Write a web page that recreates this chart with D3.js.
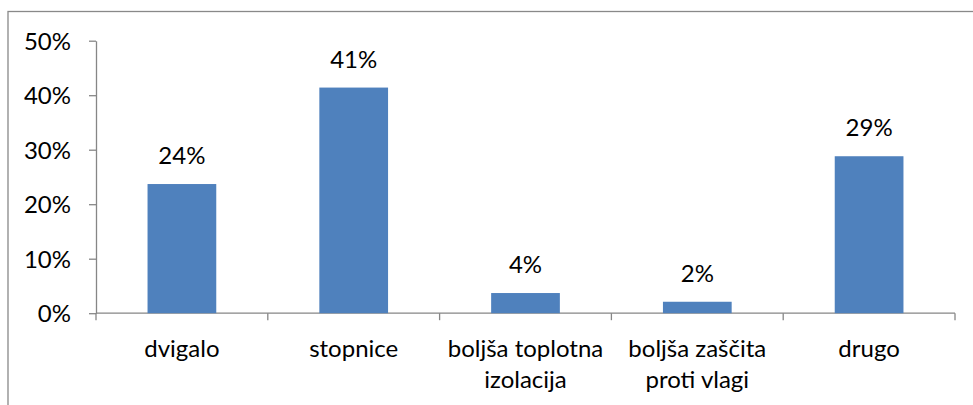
<!DOCTYPE html>
<html>
<head>
<meta charset="utf-8">
<script src="https://cdn.jsdelivr.net/npm/d3@7"></script>
<style>
  body { margin: 0; background: #fff; }
  text { font-family: Lato, "Open Sans", sans-serif; fill: #000; }
</style>
</head>
<body>
<div id="chart"></div>
<script>
const categories = [["dvigalo"], ["stopnice"], ["boljša toplotna", "izolacija"], ["boljša zaščita", "proti vlagi"], ["drugo"]];
const values = [23.7, 41.4, 3.7, 2.1, 28.8];
const valueLabels = ["24%", "41%", "4%", "2%", "29%"];
const yTicks = [0, 10, 20, 30, 40, 50];

const W = 973, H = 405;
const margin = { left: 96, right: 18, top: 40.7, bottom: 91.8 };
const fontSize = "24px";

const svg = d3.select("#chart").append("svg")
  .attr("width", W).attr("height", H);

// outer frame (only top and left edges fall inside the picture)
svg.append("rect")
  .attr("x", 8).attr("y", 11.5)
  .attr("width", W).attr("height", H)
  .attr("fill", "none").attr("stroke", "#898989").attr("stroke-width", 1.3);

const x = d3.scaleBand()
  .domain(d3.range(categories.length))
  .range([margin.left, W - margin.right])
  .paddingInner(0.6).paddingOuter(0.3);
const y = d3.scaleLinear().domain([0, 50]).range([H - margin.bottom, margin.top]);

const bandStep = x.step();

// y axis
const yAxis = svg.append("g")
  .attr("transform", `translate(${margin.left},0)`)
  .call(d3.axisLeft(y).tickValues(yTicks).tickFormat(d => d + "%").tickSize(7).tickSizeOuter(0));
yAxis.select(".domain").attr("stroke", "#868686").attr("stroke-width", 1.3);
yAxis.selectAll(".tick line").attr("stroke", "#868686").attr("stroke-width", 1.3);
yAxis.selectAll(".tick text")
  .attr("x", -25).attr("dy", "0.36em")
  .style("font-size", fontSize).attr("fill", "#000");

// x axis baseline with separator ticks
const x0 = H - margin.bottom;
svg.append("line")
  .attr("x1", margin.left).attr("x2", W - margin.right)
  .attr("y1", x0).attr("y2", x0)
  .attr("stroke", "#868686").attr("stroke-width", 1.3);
svg.selectAll(".xsep")
  .data(d3.range(categories.length + 1))
  .enter().append("line")
  .attr("x1", i => margin.left + i * bandStep)
  .attr("x2", i => margin.left + i * bandStep)
  .attr("y1", x0).attr("y2", x0 + 7)
  .attr("stroke", "#868686").attr("stroke-width", 1.3);

// bars
svg.selectAll(".bar")
  .data(values)
  .enter().append("rect")
  .attr("x", (d, i) => x(i))
  .attr("width", x.bandwidth())
  .attr("y", d => y(d))
  .attr("height", d => y(0) - y(d))
  .attr("fill", "#4F81BD");

// value labels
svg.selectAll(".vlabel")
  .data(values)
  .enter().append("text")
  .attr("x", (d, i) => x(i) + x.bandwidth() / 2)
  .attr("y", d => y(d) - 20)
  .attr("text-anchor", "middle")
  .style("font-size", fontSize)
  .text((d, i) => valueLabels[i]);

// category labels
categories.forEach((lines, i) => {
  const t = svg.append("text")
    .attr("text-anchor", "middle")
    .style("font-size", fontSize);
  lines.forEach((ln, j) => {
    t.append("tspan")
      .attr("x", x(i) + x.bandwidth() / 2)
      .attr("y", 357 + j * 31)
      .text(ln);
  });
});
</script>
</body>
</html>
